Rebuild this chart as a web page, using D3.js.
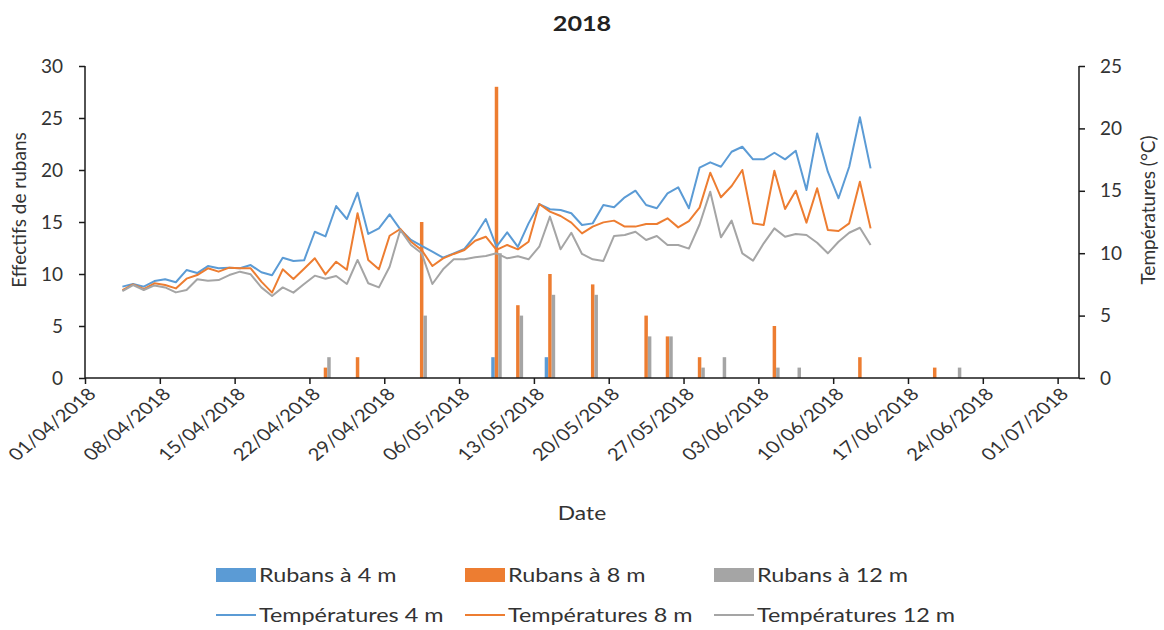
<!DOCTYPE html>
<html><head><meta charset="utf-8">
<script src="https://cdn.jsdelivr.net/npm/d3@7"></script>
<style>
html,body{margin:0;padding:0;background:#fff;}
svg{display:block;font-family:Lato, "Open Sans", sans-serif;}
</style></head>
<body>
<svg id="chart" width="1164" height="630"></svg>
<script>
// ---------- DATA ----------
const title = "2018";
const tempStart = "2018-04-04"; // first daily temperature reading
const temp4 = [7.32,7.53,7.32,7.77,7.91,7.67,8.65,8.41,8.97,8.79,
  8.84,8.79,9.05,8.47,8.23,9.64,9.38,9.43,11.72,11.35,
  13.78,12.74,14.85,11.54,11.99,13.11,11.91,11.06,10.58,10.12,
  9.64,9.99,10.34,11.4,12.74,10.52,11.67,10.5,12.39,13.94,
  13.52,13.46,13.2,12.26,12.39,13.86,13.68,14.48,15.01,13.86,
  13.6,14.8,15.28,13.6,16.85,17.28,16.93,18.13,18.53,17.52,
  17.52,18.05,17.52,18.21,15.06,19.6,16.53,14.4,16.93,20.89,16.8];
const temp8 = [7.05,7.5,7.13,7.59,7.45,7.18,7.96,8.25,8.79,8.52,
  8.84,8.79,8.79,7.72,6.84,8.71,7.93,8.76,9.59,8.3,
  9.32,8.67,13.2,9.46,8.71,11.4,11.94,10.92,10.26,8.97,
  9.59,9.94,10.26,11.0,11.32,10.26,10.66,10.31,10.92,13.94,
  13.33,12.98,12.45,11.59,12.13,12.47,12.61,12.13,12.13,12.34,
  12.34,12.8,12.07,12.57,13.65,16.45,14.48,15.38,16.67,12.39,
  12.26,16.61,13.54,15.01,12.45,15.2,11.86,11.78,12.39,15.73,11.99];
const temp12 = [6.97,7.45,7.05,7.42,7.26,6.86,7.05,7.91,7.8,7.85,
  8.25,8.52,8.31,7.26,6.57,7.26,6.84,7.53,8.2,7.95,
  8.17,7.53,9.46,7.59,7.26,8.92,11.86,10.66,9.99,7.53,
  8.71,9.51,9.51,9.67,9.78,9.99,9.59,9.75,9.51,10.52,
  12.93,10.31,11.64,9.94,9.51,9.38,11.38,11.46,11.72,11.06,
  11.38,10.66,10.66,10.37,12.3,14.93,11.27,12.61,9.99,9.4,
  10.79,11.99,11.32,11.54,11.46,10.84,9.99,10.92,11.64,12.04,10.66];

const barDates = ["2018-04-23","2018-04-26","2018-05-02","2018-05-09","2018-05-11","2018-05-14",
  "2018-05-18","2018-05-23","2018-05-25","2018-05-28","2018-05-30","2018-06-04","2018-06-06",
  "2018-06-12","2018-06-19","2018-06-21"];
const rubans4  = [0,0,0,2,0,2,0,0,0,0,0,0,0,0,0,0];
const rubans8  = [1,2,15,28,7,10,9,6,4,2,0,5,0,2,1,0];
const rubans12 = [2,0,6,12,6,8,8,4,4,1,2,1,1,0,0,1];

const xTickDates = ["2018-04-01","2018-04-08","2018-04-15","2018-04-22","2018-04-29","2018-05-06",
  "2018-05-13","2018-05-20","2018-05-27","2018-06-03","2018-06-10","2018-06-17","2018-06-24","2018-07-01"];
const leftTicks = [0,5,10,15,20,25,30];
const rightTicks = [0,5,10,15,20,25];

const barSeries = ["Rubans à 4 m","Rubans à 8 m","Rubans à 12 m"];
const lineSeries = ["Températures 4 m","Températures 8 m","Températures 12 m"];
const colors = ["#5B9BD5","#ED7D31","#A5A5A5"];

// ---------- CHART ----------
(function(){
const svg = d3.select("#chart");
const parse = d3.utcParse("%Y-%m-%d");
const DAY = 864e5;
const pL = 85, pR = 1079, pT = 66, pB = 378;
const SX = 1.2; // horizontal stretch of horizontal texts

const x = d3.scaleUtc().domain([parse("2018-04-01"), parse("2018-07-03")]).range([pL, pR]);
const yL = d3.scaleLinear().domain([0,30]).range([pB, pT]);
const yR = d3.scaleLinear().domain([0,25]).range([pB, pT]);
const fmt = d3.utcFormat("%d/%m/%Y");

// bars
const slotW = x(parse("2018-04-02")) - x(parse("2018-04-01"));
const inner = d3.scaleBand().domain([0,1,2]).range([0, slotW]).paddingInner(0).paddingOuter(0.03);
const barData = [rubans4, rubans8, rubans12];
barData.forEach((arr, s) => {
  svg.append("g").selectAll("rect").data(arr.map((v,i)=>({d:parse(barDates[i]), v})).filter(o=>o.v>0))
    .join("rect")
    .attr("x", o => x(o.d) + inner(s))
    .attr("width", inner.bandwidth())
    .attr("y", o => yL(o.v))
    .attr("height", o => yL(0) - yL(o.v))
    .attr("fill", colors[s]);
});

// lines
const t0 = parse(tempStart);
const temps = [temp4, temp8, temp12];
const line = d3.line().x(o => x(o.d)).y(o => yR(o.v));
temps.forEach((arr, s) => {
  const pts = arr.map((v,i)=>({d:new Date(+t0 + i*DAY + DAY/2), v}));
  svg.append("path").datum(pts).attr("d", line)
    .attr("fill","none").attr("stroke", colors[s]).attr("stroke-width", 2)
    .attr("stroke-linejoin","round");
});

// axes
const axisColor = "#1a1a1a";
const gx = svg.append("g").attr("transform", `translate(0,${pB})`)
  .call(d3.axisBottom(x).tickValues(xTickDates.map(parse)).tickSize(6).tickFormat(""));
gx.select(".domain").attr("d", `M${pL},0H${pR}`);
gx.selectAll("text").remove();
xTickDates.forEach(s => {
  const px = x(parse(s));
  svg.append("text").attr("transform", `translate(${px+7},${pB+13}) scale(${SX},1) rotate(-45)`)
    .attr("text-anchor","end").attr("dy","0.35em")
    .attr("font-size", 17).attr("fill","#333").text(fmt(parse(s)));
});

const gl = svg.append("g").attr("transform", `translate(${pL},0)`)
  .call(d3.axisLeft(yL).tickValues(leftTicks).tickSize(6).tickPadding(16));
const gr = svg.append("g").attr("transform", `translate(${pR},0)`)
  .call(d3.axisRight(yR).tickValues(rightTicks).tickSize(6).tickPadding(15));
[gx, gl, gr].forEach(g => {
  g.selectAll(".domain").attr("stroke", axisColor).attr("stroke-width", 1.5);
  g.selectAll(".tick line").attr("stroke", axisColor).attr("stroke-width", 1.5);
  g.selectAll(".tick text").attr("font-size", 19).attr("fill", "#333").attr("font-family","Lato, sans-serif");
});
gl.select(".domain").attr("d", `M0,${pT}V${pB}`);
gr.select(".domain").attr("d", `M0,${pT}V${pB}`);

// titles
svg.append("text").attr("transform", `translate(582,31) scale(${SX},1)`).attr("text-anchor","middle")
  .attr("font-size", 21).attr("font-weight","bold").attr("fill","#222").text(title);
svg.append("text").attr("transform", `translate(26,210) rotate(-90)`).attr("text-anchor","middle")
  .attr("font-size", 19).attr("fill","#333").text("Effectifs de rubans");
svg.append("text").attr("transform", `translate(1155,210) rotate(-90)`).attr("text-anchor","middle")
  .attr("font-size", 19).attr("fill","#333").text("Températures (°C)");
svg.append("text").attr("transform", `translate(582,520) scale(${SX},1)`).attr("text-anchor","middle")
  .attr("font-size", 19).attr("fill","#333").text("Date");

// legend
const legX = [216, 465, 714];
barSeries.forEach((name, i) => {
  const g = svg.append("g").attr("transform", `translate(${legX[i]},575)`);
  g.append("rect").attr("x",0).attr("y",-7).attr("width",40).attr("height",14).attr("fill",colors[i]);
  g.append("text").attr("transform", `translate(43,0) scale(${SX},1)`).attr("dy","0.35em")
    .attr("font-size",19.5).attr("fill","#333").text(name);
});
lineSeries.forEach((name, i) => {
  const g = svg.append("g").attr("transform", `translate(${legX[i]},615)`);
  g.append("line").attr("x1",0).attr("x2",40).attr("y1",0).attr("y2",0).attr("stroke",colors[i]).attr("stroke-width",2);
  g.append("text").attr("transform", `translate(43,0) scale(${SX},1)`).attr("dy","0.35em")
    .attr("font-size",19.5).attr("fill","#333").text(name);
});
})();
</script>
</body></html>
